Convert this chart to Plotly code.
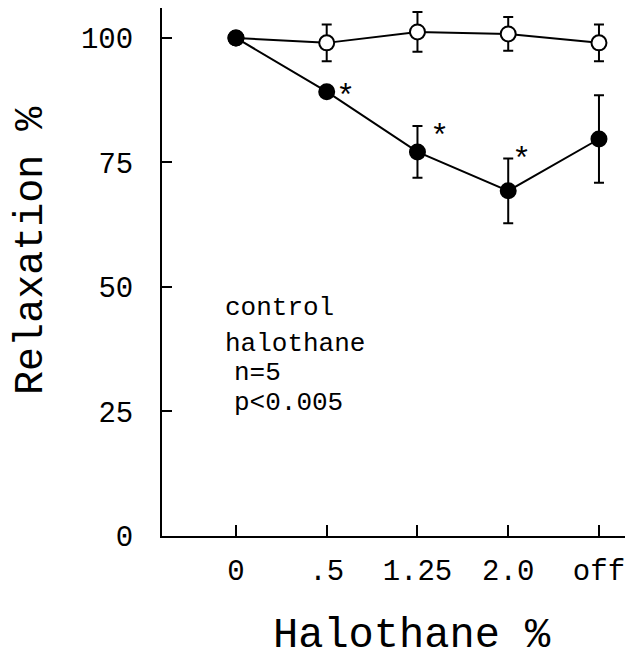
import plotly.graph_objects as go

categories = ["0", ".5", "1.25", "2.0", "off"]
x_pos = [0, 1, 2, 3, 4]

control_y = [100, 99.0, 101.2, 100.8, 99.0]
control_err = [0, 3.7, 4.0, 3.4, 3.7]

halothane_y = [100, 89.2, 77.1, 69.3, 79.7]
halothane_err = [0, 0, 5.2, 6.5, 8.8]

star_x = [1, 2, 3]
star_y = [89.2, 77.1, 69.3]

info_lines = ["control", "halothane", "n=5", "p<0.005"]
info_x = [-0.145, -0.145, -0.045, -0.045]
info_y = [45.8, 38.6, 32.7, 26.8]

y_ticks = [0, 25, 50, 75, 100]

FONT = "Liberation Mono, Courier New, monospace"

fig = go.Figure()

fig.add_trace(go.Scatter(
    x=x_pos, y=control_y, mode="lines+markers",
    line=dict(color="black", width=2),
    marker=dict(symbol="circle", size=15, color="white", line=dict(color="black", width=2)),
    error_y=dict(type="data", array=control_err, visible=True, color="black", thickness=2, width=5),
    showlegend=False,
))

fig.add_trace(go.Scatter(
    x=x_pos, y=halothane_y, mode="lines+markers",
    line=dict(color="black", width=2),
    marker=dict(symbol="circle", size=15, color="black", line=dict(color="black", width=2)),
    error_y=dict(type="data", array=halothane_err, visible=True, color="black", thickness=2, width=5),
    showlegend=False,
))

star_shift = [(19, -6), (22, 14), (13, 30)]
for (sx, sy), (dx, dy) in zip(zip(star_x, star_y), star_shift):
    fig.add_annotation(x=sx, y=sy, text="*", showarrow=False,
                       xshift=dx, yshift=dy,
                       font=dict(family=FONT, size=32, color="black"))

for line, lx, ly in zip(info_lines, info_x, info_y):
    fig.add_annotation(x=lx, y=ly, xref="x", yref="y", xanchor="left", yanchor="middle",
                       text=line, showarrow=False,
                       font=dict(family=FONT, size=26, color="black"))

fig.add_annotation(xref="paper", yref="paper", x=-0.276, y=0.54, text="Relaxation %",
                   textangle=-90, showarrow=False, xanchor="center", yanchor="middle",
                   font=dict(family=FONT, size=40, color="black"))
fig.add_annotation(xref="paper", yref="paper", x=0.531, y=-0.19, text="Halothane %",
                   showarrow=False, xanchor="center", yanchor="middle",
                   font=dict(family=FONT, size=42, color="black"))

fig.update_layout(
    width=625, height=653,
    margin=dict(l=154, r=0, t=0, b=125),
    paper_bgcolor="white", plot_bgcolor="white",
    font=dict(family=FONT, color="black"),
)
fig.update_xaxes(
    range=[-0.815, 4.375], tickvals=x_pos, ticktext=categories,
    showline=True, linecolor="black", linewidth=2, mirror=False,
    ticks="inside", ticklen=11, tickwidth=2, tickcolor="black",
    showgrid=False, zeroline=False,
    tickfont=dict(family=FONT, size=29, color="black"), ticklabelstandoff=7,
)
fig.update_yaxes(
    range=[0, 106.0], tickvals=y_ticks,
    showline=True, linecolor="black", linewidth=2,
    ticks="inside", ticklen=10, tickwidth=2, tickcolor="black",
    showgrid=False, zeroline=False,
    tickfont=dict(family=FONT, size=29, color="black"), ticklabelstandoff=21,
)

fig.write_html("out.html")
